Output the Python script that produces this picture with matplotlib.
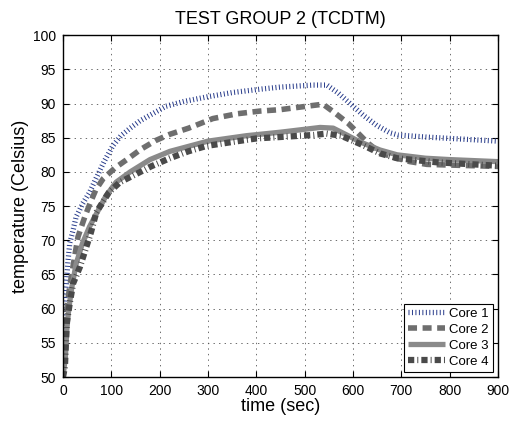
import numpy as np
import matplotlib
matplotlib.use('Agg')
import matplotlib.pyplot as plt

plt.rcParams['font.family'] = ['Liberation Sans', 'DejaVu Sans']
plt.rcParams['lines.scale_dashes'] = False

# values
t1 = [0, 4, 7, 10, 14, 21, 27, 41, 55, 68, 85, 103, 120, 139, 160, 180, 213, 250, 300, 350,
      408, 449, 518, 546, 570, 594, 621, 649, 677, 693, 750, 800, 850, 900]
core1 = [57, 61.3, 63.7, 66.7, 69.6, 71.5, 73.4, 75.4, 77, 79, 81.5, 83.8, 85.3, 86.4, 87.5, 88.3,
         89.6, 90.3, 91, 91.6, 92.1, 92.4, 92.7, 92.7, 91.5, 90, 88.3, 86.8, 85.7, 85.4, 85.1,
         84.9, 84.7, 84.5]

t2 = [0, 5, 10, 17, 25, 31, 45, 56, 68, 83, 108, 134, 161, 192, 221, 260, 310, 360, 408, 449,
      504, 538, 563, 590, 610, 631, 656, 690, 718, 753, 800, 900]
core2 = [51, 57, 61.3, 64.6, 68, 70.5, 73.4, 75.4, 77.4, 79, 80.6, 81.9, 83.3, 84.6, 85.5, 86.4,
         87.8, 88.5, 88.9, 89.1, 89.6, 89.9, 88.6, 87.1, 85.7, 84.2, 82.8, 82, 81.5, 81.1, 81,
         80.8]

t3 = [0, 5, 8, 12, 18, 27, 40, 55, 70, 89, 110, 139, 180, 221, 300, 380, 449, 532, 559, 587,
      614, 656, 691, 750, 800, 900]
core3 = [50, 53, 57, 60, 63, 66.5, 69.5, 72, 74, 76.5, 78.5, 80, 81.8, 83, 84.5, 85.3, 85.8, 86.5,
         86.4, 85.4, 84.4, 83.2, 82.5, 82, 81.8, 81.5]

t4 = [0, 4, 6, 8, 14, 21, 35, 45, 58, 69, 77, 95, 118, 149, 182, 221, 259, 297, 362, 401, 449,
      518, 545, 575, 598, 621, 656, 691, 774, 900]
core4 = [50, 51.5, 55, 58, 60.8, 63.7, 66.1, 68.3, 71.2, 74.1, 75, 77, 78.5, 79.6, 80.8, 82, 83,
         83.8, 84.5, 84.9, 85.1, 85.4, 85.6, 85.3, 84.6, 83.9, 82.7, 82, 81.4, 80.9]

fig = plt.figure(figsize=(5.13, 4.21), dpi=100)
ax = fig.add_axes([0.1228, 0.1045, 0.848, 0.812])

ax.plot(t1, core1, color='#263a8a', lw=3.8, dashes=(0.7, 1.8), dash_capstyle='butt',
        label='Core 1')
ax.plot(t2, core2, color='#6e6e6e', lw=4.0, dashes=(6.5, 4.0), dash_capstyle='butt', label='Core 2')
ax.plot(t3, core3, color='#8a8a8a', lw=3.8, solid_capstyle='butt', label='Core 3')
ax.plot(t4, core4, color='#4a4a4a', lw=4.5, dashes=(4.5, 2.2, 0.7, 2.2), dash_capstyle='butt',
        label='Core 4')

ax.set_xlim(0, 900)
ax.set_ylim(50, 100)
ax.set_xticks(np.arange(0, 901, 100))
ax.set_yticks(np.arange(50, 101, 5))
ax.grid(True, color='#555555', linestyle=(0, (1, 3)), linewidth=0.6)
ax.tick_params(direction='in', top=True, right=True, labelsize=10, length=4, width=0.8, pad=5)
for s in ax.spines.values():
    s.set_linewidth(1.0)

ax.set_title('TEST GROUP 2 (TCDTM)', fontsize=13, pad=8)
ax.set_xlabel('time (sec)', fontsize=13, labelpad=0)
ax.set_ylabel('temperature (Celsius)', fontsize=13, labelpad=3)

leg = ax.legend(loc='lower right', fontsize=9.5, fancybox=False, framealpha=1, edgecolor='black',
                handlelength=2.8, handletextpad=0.3, borderpad=0.3, labelspacing=0.28,
                borderaxespad=0.4)
leg.get_frame().set_linewidth(0.8)

fig.savefig('out.png', dpi=100)
